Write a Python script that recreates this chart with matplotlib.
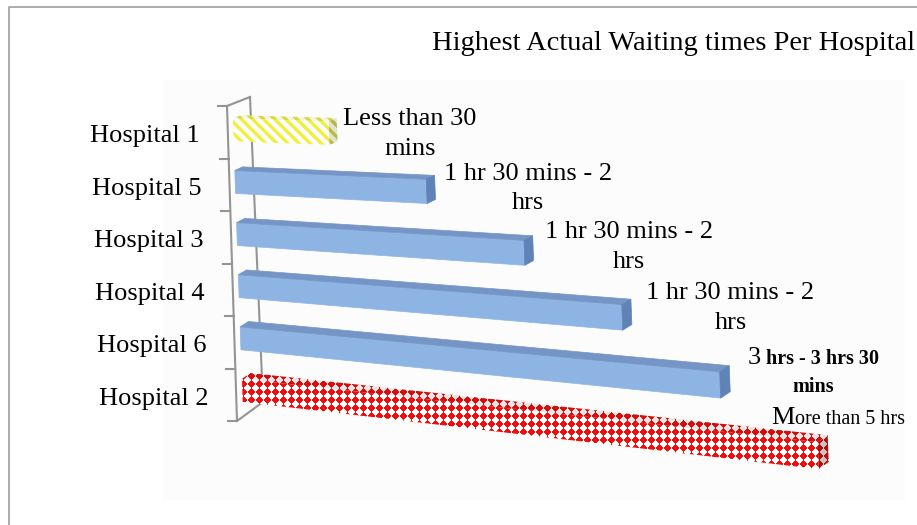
# Highest actual waiting times per hospital, drawn as an Excel-like 3D bar chart
import numpy as np
import matplotlib.pyplot as plt
from matplotlib.patches import Polygon, Rectangle
from matplotlib.offsetbox import TextArea, HPacker, VPacker, AnnotationBbox

SERIF = ['Liberation Serif', 'DejaVu Serif']

title = 'Highest Actual Waiting times Per Hospital'
hospitals = ['Hospital 1', 'Hospital 5', 'Hospital 3', 'Hospital 4', 'Hospital 6', 'Hospital 2']
values = [1, 2, 3, 4, 5, 6]
value_labels = ['Less than 30\nmins', '1 hr 30 mins - 2\nhrs', '1 hr 30 mins - 2\nhrs',
                '1 hr 30 mins - 2\nhrs', '3 hrs - 3 hrs 30\nmins', 'More than 5 hrs']
# None = plain label, otherwise first letter large and the rest smaller with this weight
label_tail = [None, None, None, None, 'bold', 'normal']
bar_fill = ['stripes', 'blue', 'blue', 'blue', 'blue', 'diamonds']

W, H = 917, 525
plt.rcParams['hatch.linewidth'] = 2.4

# simple perspective: value axis runs away from a vanishing point far on the left
VP = (-3000.0, 23.0)
STRETCH = 0.0296      # growth per value unit
AX_X0, AX_Y0 = 227.0, 106.0
ROW_DX, ROW_DY = 10 / 6, 52.5


def project(x, y, z):
    bx = AX_X0 + ROW_DX * y + z * (23 + 0.5 * y)
    by = AX_Y0 + ROW_DY * y + z * (-9 - 1.67 * y)
    f = 1 + STRETCH * x
    return VP[0] + (bx - VP[0]) * f, VP[1] + (by - VP[1]) * f


def face(points):
    return [project(*p) for p in points]


fig = plt.figure(figsize=(W / 100, H / 100), dpi=100)
ax = fig.add_axes([0, 0, 1, 1])
ax.axis('off')

# chart border (cropped on right / bottom) and plot area
ax.plot([9, 9, W], [H, 7, 7], color='#a6a6a6', lw=1.3, zorder=0)
ax.add_patch(Rectangle((163, 80), 742, 420, facecolor='#fcfcfc', edgecolor='none', zorder=0))

ax.text(915, 44, title, ha='right', va='center', family=SERIF, fontsize=20.5)

# side wall outline with tick marks
n = len(hospitals)
wall = '#949494'
for z in (0, 1):
    p = face([(0, 0, z), (0, n, z)])
    ax.plot([q[0] for q in p], [q[1] for q in p], color=wall, lw=1.5, zorder=1)
for y in (0, n):
    p = face([(0, y, 0), (0, y, 1)])
    ax.plot([q[0] for q in p], [q[1] for q in p], color=wall, lw=1.5, zorder=1)
for y in range(n + 1):
    tx, ty = project(0, y, 0)
    ax.plot([tx - 9, tx], [ty, ty], color=wall, lw=1.5, zorder=1)

for k, name in enumerate(hospitals):
    tx, ty = project(0, k + 0.5, 0)
    ax.text(tx - 28, ty + 4, name, ha='right', va='center', family=SERIF, fontsize=19)

# red diamond pattern used for the last bar
yy, xx = np.mgrid[0:H, 0:W] + 0.5
s = 8
cell = (np.floor((xx + yy) / s) + np.floor((xx - yy) / s)) % 2
diamonds = np.ones((H, W, 3))
diamonds[cell == 0] = [0.95, 0.05, 0.05]

y_gap = 0.28
zf, zb = 0.24, 0.57
anchors = []
for k, v in enumerate(values):
    y0, y1 = k + y_gap, k + 1 - y_gap
    front = face([(0, y0, zf), (v, y0, zf), (v, y1, zf), (0, y1, zf)])
    top = face([(0, y0, zf), (v, y0, zf), (v, y0, zb), (0, y0, zb)])
    end = face([(v, y0, zf), (v, y1, zf), (v, y1, zb), (v, y0, zb)])
    zo = 2 + k
    if bar_fill[k] == 'blue':
        for pts, col in ((front, '#8eb4e3'), (top, '#7595c6'), (end, '#5f82b7')):
            ax.add_patch(Polygon(pts, facecolor=col, edgecolor=col, lw=0.5, zorder=zo))
    elif bar_fill[k] == 'stripes':
        for pts, bg, hc in ((front, 'white', '#f0f03a'), (top, '#f4f4e0', '#d8d838'),
                            (end, '#e4e4cc', '#b8b848')):
            ax.add_patch(Polygon(pts, facecolor=bg, edgecolor=hc, lw=0, hatch='\\\\\\', zorder=zo))
    else:
        for pts, shade in ((front, 1.0), (top, 0.9), (end, 0.78)):
            poly = Polygon(pts, facecolor='none', edgecolor='none', zorder=zo)
            ax.add_patch(poly)
            im = ax.imshow(diamonds * shade, extent=(0, W, H, 0), aspect='auto',
                           interpolation='nearest', zorder=zo)
            im.set_clip_path(poly)
    ex, ey = project(v, k + 0.5, zb)
    cx, cy = project(v, y0, zb)
    anchors.append((ex + 6 + 3 * k, ey + 4 - 2.7 * k, cy))


def label_box(text, tail):
    rows = []
    for i, line in enumerate(text.split('\n')):
        if tail is None:
            parts = [TextArea(line, textprops=dict(family=SERIF, fontsize=19))]
            sep = 0
        elif i == 0:
            rest = line[1:]
            sep = 4 if rest.startswith(' ') else 0
            parts = [TextArea(line[0], textprops=dict(family=SERIF, fontsize=19)),
                     TextArea(rest.strip(), textprops=dict(family=SERIF, fontsize=14.5, weight=tail))]
        else:
            parts = [TextArea(line, textprops=dict(family=SERIF, fontsize=14.5, weight=tail))]
            sep = 0
        rows.append(HPacker(children=parts, align='baseline', pad=0, sep=sep))
    return VPacker(children=rows, align='center', pad=0, sep=5.5)


def add_label(k, xy, align):
    ab = AnnotationBbox(label_box(value_labels[k], label_tail[k]), xy, xycoords='data',
                        box_alignment=align, frameon=False, pad=0, zorder=10)
    ax.add_artist(ab)
    return ab


boxes = [add_label(k, anchors[k][:2], (0, 0.5)) for k in range(len(value_labels))]

ax.set_xlim(0, W)
ax.set_ylim(H, 0)

# labels running past the chart edge are pulled back inside, above their bar
fig.canvas.draw()
for k, ab in enumerate(boxes):
    bb = ab.get_window_extent(fig.canvas.get_renderer())
    if bb.x1 > 905:
        ab.remove()
        add_label(k, (905, anchors[k][2] - 6), (1, 0))

fig.savefig('out.png', dpi=100, facecolor='white')
